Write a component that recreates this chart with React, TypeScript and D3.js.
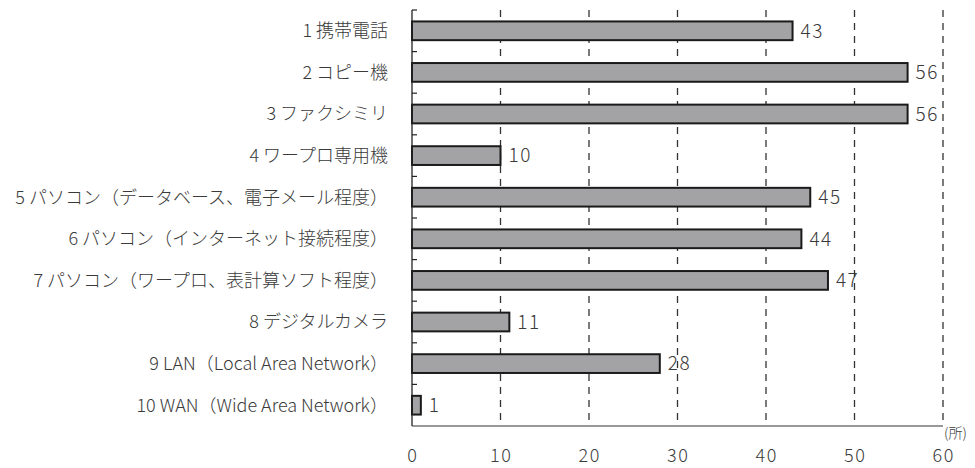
import React from "react";
import * as d3 from "d3";

const categories = [
  "1 携帯電話",
  "2 コピー機",
  "3 ファクシミリ",
  "4 ワープロ専用機",
  "5 パソコン（データベース、電子メール程度）",
  "6 パソコン（インターネット接続程度）",
  "7 パソコン（ワープロ、表計算ソフト程度）",
  "8 デジタルカメラ",
  "9 LAN（Local Area Network）",
  "10 WAN（Wide Area Network）",
];
const values = [43, 56, 56, 10, 45, 44, 47, 11, 28, 1];
const ticks = [0, 10, 20, 30, 40, 50, 60];
const unitLabel = "(所)";

const W = 975;
const H = 468;
const left = 412;
const right = 943;
const top = 10;
const bottom = 426;
const font = "'Noto Sans CJK JP', 'Noto Sans', sans-serif";

export default function App() {
  const x = d3.scaleLinear().domain([0, 60]).range([left, right]);
  const y = d3.scaleBand<string>().domain(categories).range([top, bottom]).paddingInner(0.55).paddingOuter(0.275);
  const band = d3.scaleBand<string>().domain(categories).range([top, bottom]);
  return (
    <svg width={W} height={H} style={{ position: "absolute", left: 0, top: 0 }}>
      <rect width={W} height={H} fill="#fff" />
      {ticks.slice(1).map((t) => (
        <line key={t} x1={x(t)} x2={x(t)} y1={top} y2={bottom} stroke="#333" strokeWidth={1.3} strokeDasharray="7,6" />
      ))}
      {categories.map((c, i) => (
        <g key={c}>
          <rect
            x={x(0)}
            y={y(c)!}
            width={x(values[i]) - x(0)}
            height={y.bandwidth()}
            fill="#a3a3a5"
            stroke="#1a1a1a"
            strokeWidth={2}
          />
          <text x={x(values[i]) + 8} y={y(c)! + y.bandwidth() / 2} dy="0.36em" fontSize={19} fontWeight={300} letterSpacing={1.5} fill="#3a3a3a" fontFamily={font}>
            {values[i]}
          </text>
          <text x={388} y={band(c)! + band.bandwidth() / 2} dy="0.36em" fontSize={18} fontWeight={300} fill="#3a3a3a" textAnchor="end" fontFamily={font}>
            {c}
          </text>
        </g>
      ))}
      {categories.map((c) => (
        <line key={"t" + c} x1={left} x2={left + 5} y1={band(c)!} y2={band(c)!} stroke="#222" strokeWidth={1.2} />
      ))}
      <line x1={left} x2={left} y1={top} y2={bottom} stroke="#222" strokeWidth={1.3} />
      <line x1={left} x2={right} y1={bottom} y2={bottom} stroke="#333" strokeWidth={1.2} />
      {ticks.map((t) => (
        <text key={t} x={x(t) + 0.75} y={456} dy="0.36em" fontSize={18} fontWeight={300} letterSpacing={1.5} fill="#3a3a3a" textAnchor="middle" fontFamily={font}>
          {t}
        </text>
      ))}
      <text x={944} y={433} dy="0.36em" fontSize={14} fontWeight={300} fill="#3a3a3a" fontFamily={font}>
        {unitLabel}
      </text>
    </svg>
  );
}
